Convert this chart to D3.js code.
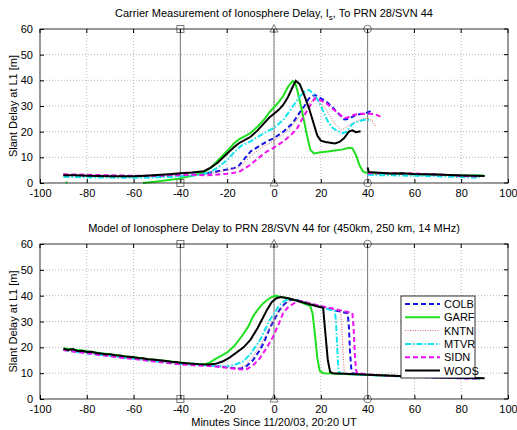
<!DOCTYPE html>
<html>
<head>
<meta charset="utf-8">
<script src="https://cdn.jsdelivr.net/npm/d3@7"></script>
<style>
  body { margin: 0; background: #fff; }
  text { font-family: "Liberation Sans", Arial, sans-serif; fill: #000; }
</style>
</head>
<body>
<svg id="chart" width="517" height="430"></svg>
<script>
// station names, same order in both panels
const stations = ["COLB", "GARF", "KNTN", "MTVR", "SIDN", "WOOS"];
const xTicks = [-100, -80, -60, -40, -20, 0, 20, 40, 60, 80, 100];
const yTicks = [0, 10, 20, 30, 40, 50, 60];
const markerTimes = [-40, 0, 40];
const markerShapes = ["square", "triangle", "circle"];

// measured delay [minutes, metres]; null = gap in the record
const colbMeas = [[-90,3.2],[-80,3.0],[-70,2.8],[-60,2.6],[-50,2.7],[-40,3.0],[-35,3.2],[-30,3.6],[-25,4.4],[-20,5.3],[-17,5.8],[-15,6.8],[-13,9],[-10,12.3],[-7,14],[-3,16.2],[0,17.5],[4,20],[8,23.3],[11,27.5],[13,30],[15,33],[17.4,34.3],[20,33],[22.4,31.7],[25,29.5],[27,27.5],[30,24.8],[32,25],[35,26.5],[38,27],[40,27.5],[42.5,28.5],null,[40,3.6],[45,3.8],[50,3.6],[60,3.4],[70,3.2],[80,2.9],[88,2.8]];
const garfMeas = [[-89,0.3],[-88.3,0.1],null,[-56,0],[-50,0.6],[-45,1.2],[-40,1.8],[-35,2.8],[-30,4.2],[-27,6],[-24,8.8],[-20,12.5],[-17,15.5],[-15,17],[-12,18.5],[-10,19.5],[-7,22],[-4,25],[-2,27.5],[0,29.5],[2,31.5],[4,34],[6,37.5],[8,39.8],[9,39],[10,36],[12,28],[14,19],[15.5,13],[17,11.5],[20,12],[23,12.3],[26,12.7],[29,13],[32,13.7],[33.5,13.5],[35,11],[36.5,7],[38,4.5],[40,3.8],[45,3.8],[50,3.6],[60,3.4],[70,3.2],[80,2.9],[88,3.0],[90,2.8]];
const kntnMeas = [[-90,3.0],[-80,2.8],[-70,2.6],[-60,2.5],[-50,2.6],[-40,2.9],[-30,3.3],[-25,4],[-20,5],[-15,6],[-12,8.5],[-10,10.5],[-5,14],[0,16.5],[4,19],[8,22.5],[11,26],[13,28.5],[15,31],[17.4,32.6],[20,31],[22.4,28.5],[24,26],[26,23],[28.8,20.7],[30.5,21.5],[32.3,22.7],[35,24],[38,25],[40,25.3],[42.3,23.9],[43.5,21.8],null,[40,3.4],[50,3.4],[60,3.2],[70,3.0],[80,2.7],[88,2.6]];
const mtvrMeas = [[-90,2.4],[-80,2.2],[-70,2.1],[-60,2.0],[-50,2.2],[-40,2.6],[-35,2.9],[-30,3.4],[-27,4.5],[-24,6],[-20,9],[-17,12],[-14,14.5],[-10,16.2],[-6,18.5],[-3,20],[0,21.5],[4,24.6],[8,29.8],[11,33.7],[13,35.5],[15,36.3],[17,34.5],[19,32],[21,28],[23,24],[25,21.5],[27,20.3],[29.5,19.4],[31,20],[33.5,23],[36,24],[39.5,24.8],[41,24.3],null,[40,3.2],[45,3.0],[50,3.0],[60,2.8],[70,2.6],[80,2.3],[85,2.1],[88,2.2]];
const sidnMeas = [[-90,3.4],[-80,3.2],[-70,3.0],[-60,2.8],[-50,2.9],[-40,3.2],[-35,3.2],[-30,3.0],[-25,3.2],[-20,3.6],[-15,4.3],[-10,7.1],[-7,9.5],[-3,12.3],[0,13.8],[4,16.2],[8,19.4],[10,21.5],[12.4,25.5],[15,29.5],[17.4,33],[20,32.2],[22.4,31],[25,29],[27,27.5],[30,25.3],[31.5,25.5],[34,26.5],[37,27],[40,27],[43,26.9],[46,25.6],null,[40,3.8],[45,3.9],[50,3.8],[60,3.7],[70,3.3],[80,2.8],[85,2.6],[88,2.5]];
const woosMeas = [[-90,3.0],[-85,3.0],[-80,2.8],[-75,2.7],[-70,2.6],[-65,2.6],[-60,2.6],[-55,2.8],[-50,3.1],[-45,3.4],[-40,3.8],[-35,4.1],[-30,4.6],[-27,6],[-24,8],[-20,11.5],[-17,14],[-15,15.5],[-12,17],[-10,18],[-7,20.5],[-4,23.5],[-2,25.5],[0,27],[2,28.5],[4,30.5],[6,33.5],[8,37.5],[9.3,39.8],[11,38.5],[13,34],[15,29],[17,23],[18.5,18.5],[20,16.5],[22,16],[24,15.7],[26,15.4],[28,16],[30,17.5],[32,20],[33.5,20.5],[35,19.8],[37,20.2],null,[40,6],[40.5,4.3],[45,4],[50,3.7],[55,3.8],[60,3.5],[65,3.4],[70,3.3],[75,3.1],[80,2.9],[85,2.8],[90,2.7]];

// modelled delay [minutes, metres]
const colbModel = [[-90,19.2],[-85,18.4],[-80,17.9],[-75,17.2],[-70,16.8],[-65,16.2],[-60,15.8],[-55,15.2],[-50,14.7],[-45,14.1],[-40,13.7],[-35,13.4],[-30,13.2],[-25,12.8],[-20,12.3],[-17,11.9],[-14,11.8],[-12,12.5],[-9,15],[-6,19],[-4,22.5],[-1.8,27.4],[0,30.5],[2.4,34.5],[4.5,36.8],[6.7,38.3],[9,38.5],[12,37.7],[16,36.7],[20,35.7],[25,34.5],[30,33.5],[31.5,33.2],[32,28],[32.5,18],[33,12],[33.5,10],[36,9.7],[40,9.4],[50,9.0],[60,8.6],[70,8.3],[80,8.1],[88,7.9]];
const garfModel = [[-90,19.6],[-86,19.2],[-82,18.8],[-78,18.3],[-74,17.7],[-70,17.3],[-66,16.8],[-62,16.4],[-58,16.0],[-54,15.5],[-50,15.1],[-46,14.7],[-42,14.3],[-38,13.9],[-34,13.6],[-30,13.5],[-28,13.8],[-25,15.5],[-22,17],[-20,18],[-17,20.5],[-14,24],[-11,28],[-9,31.9],[-7,34.5],[-4.7,37],[-2,39],[0.5,40],[3,39.5],[6,39],[10,38],[13.8,36.6],[15.5,36],[16.5,33],[17.5,25],[18.5,16],[19.5,11],[21,10],[25,9.9],[30,9.7],[40,9.4],[50,9.0],[60,8.7],[70,8.4],[80,8.2],[88,8.0]];
const kntnModel = [[-90,19.1],[-85,18.3],[-80,17.8],[-75,17.1],[-70,16.7],[-65,16.1],[-60,15.7],[-55,15.1],[-50,14.6],[-45,14.0],[-40,13.6],[-35,13.3],[-30,13.1],[-25,12.7],[-20,12.2],[-17,11.9],[-15,11.9],[-12,13.2],[-9,16.5],[-6,20.5],[-3,25.5],[-1,29],[1,32.5],[3,35],[5.5,37.3],[8,38.3],[11,38],[15,37],[20,35.8],[25,34.7],[28.5,33.8],[29,28],[29.5,18],[30,11],[30.5,10],[35,9.7],[40,9.4],[50,9.0],[60,8.6],[70,8.3],[80,8.1],[88,7.9]];
const mtvrModel = [[-90,19.0],[-85,18.3],[-80,17.7],[-75,17.1],[-70,16.6],[-65,16.0],[-60,15.6],[-55,15.0],[-50,14.5],[-45,14.0],[-40,13.6],[-35,13.3],[-30,13.1],[-25,12.8],[-22,12.6],[-20,12.6],[-17,13.2],[-13.2,14.5],[-10,17.5],[-6,22.8],[-4,26.5],[-1.8,30.6],[0,33],[2.4,36.4],[4.5,38],[6.7,38.8],[10,38],[14,37],[18,36],[22,35],[26,34],[26.5,30],[27,20],[27.5,12],[28,10],[30,9.7],[40,9.3],[50,8.9],[60,8.6],[70,8.3],[80,8.0],[88,7.9]];
const sidnModel = [[-90,19.0],[-86,18.4],[-82,18.0],[-78,17.5],[-74,17.0],[-70,16.6],[-66,16.1],[-62,15.7],[-58,15.3],[-54,14.8],[-50,14.4],[-46,14.0],[-42,13.6],[-38,13.3],[-34,13.1],[-30,12.9],[-25,12.6],[-20,12.1],[-15,11.5],[-12,11.3],[-9,13],[-6.1,15.7],[-3,20],[-0.4,24.1],[2,29],[3.9,33.2],[6,35.5],[9.6,37.7],[12,37.8],[16,36.9],[20,36],[25,35],[30,34],[33.5,33.3],[34,28],[34.5,18],[35,11.5],[35.5,10],[40,9.5],[50,9.0],[60,8.6],[70,8.3],[80,8.0],[88,7.9]];
const woosModel = [[-90,19.5],[-88,19],[-86,19.3],[-84,18.6],[-82,18.7],[-80,18.2],[-78,18.3],[-76,17.8],[-74,17.6],[-72,17.3],[-70,17.3],[-68,16.9],[-66,16.8],[-64,16.5],[-62,16.4],[-60,16.2],[-58,15.9],[-56,15.8],[-54,15.4],[-52,15.3],[-50,15.1],[-48,14.9],[-46,14.7],[-44,14.4],[-42,14.3],[-40,14.0],[-36,13.7],[-32,13.5],[-28,13.4],[-25,13.6],[-22,14.5],[-19,16],[-16,18],[-13,20],[-10,23],[-7,27.5],[-5,31],[-3,34.5],[-1,37.5],[1,39],[3,39.5],[6,39],[10,38],[14,37],[18,36],[21,35.3],[22,25],[23,15],[24,10.5],[25,10],[30,9.8],[40,9.4],[50,9.0],[60,8.7],[70,8.4],[80,8.2],[90,8.0]];

const measured = [colbMeas, garfMeas, kntnMeas, mtvrMeas, sidnMeas, woosMeas];
const modelled = [colbModel, garfModel, kntnModel, mtvrModel, sidnModel, woosModel];

// line styles, matlab-ish
const styles = {
  COLB: { color: "#1414e6", dash: "5,3", width: 2 },
  GARF: { color: "#1ee01e", dash: null, width: 2 },
  KNTN: { color: "#c86464", dash: "1,1.5", width: 1 },
  MTVR: { color: "#10e6f0", dash: "6,2,1.5,2", width: 2 },
  SIDN: { color: "#f010f0", dash: "5,3", width: 2 },
  WOOS: { color: "#000000", dash: null, width: 2 }
};

const svg = d3.select("#chart");
const left = 40, right = 508;
const x = d3.scaleLinear().domain([-100, 100]).range([left, right]);

function drawPanel(top, bottom, data, title) {
  const y = d3.scaleLinear().domain([0, 60]).range([bottom, top]);
  const g = svg.append("g");

  // dotted grid
  g.selectAll(".gx").data(xTicks.slice(1, -1)).join("line")
    .attr("x1", d => x(d)).attr("x2", d => x(d))
    .attr("y1", top).attr("y2", bottom)
    .attr("stroke", "#b4b4b4").attr("stroke-dasharray", "1,2");
  g.selectAll(".gy").data(yTicks.slice(1, -1)).join("line")
    .attr("x1", left).attr("x2", right)
    .attr("y1", d => y(d)).attr("y2", d => y(d))
    .attr("stroke", "#b4b4b4").attr("stroke-dasharray", "1,2");

  // reference epochs
  markerTimes.forEach((t, i) => {
    g.append("line").attr("x1", x(t)).attr("x2", x(t))
      .attr("y1", top).attr("y2", bottom)
      .attr("stroke", "#7a7a7a").attr("stroke-width", 1);
    [top, bottom].forEach(py => {
      const px = x(t);
      if (markerShapes[i] == "square") {
        g.append("rect").attr("x", px - 3.5).attr("y", py - 3.5)
          .attr("width", 7).attr("height", 7);
      } else if (markerShapes[i] == "triangle") {
        g.append("path").attr("d", `M${px},${py - 4.5}L${px + 4},${py + 3}L${px - 4},${py + 3}Z`);
      } else {
        g.append("circle").attr("cx", px).attr("cy", py).attr("r", 3.8);
      }
    });
  });
  g.selectAll("rect, path, circle").attr("fill", "none").attr("stroke", "#7a7a7a");

  // series
  const line = d3.line().defined(d => d != null).x(d => x(d[0])).y(d => y(d[1]));
  stations.forEach((s, i) => {
    const st = styles[s];
    g.append("path").datum(data[i])
      .attr("d", line)
      .attr("fill", "none")
      .attr("stroke", st.color)
      .attr("stroke-width", st.width)
      .attr("stroke-dasharray", st.dash);
  });

  // axes box and ticks
  g.append("rect").attr("x", left).attr("y", top)
    .attr("width", right - left).attr("height", bottom - top)
    .attr("fill", "none").attr("stroke", "#000").attr("stroke-width", 0.8);

  const xAxis = d3.axisBottom(x).tickValues(xTicks).tickFormat(d => String(d)).tickSize(-4).tickPadding(6.5);
  g.append("g").attr("transform", `translate(0,${bottom})`).call(xAxis)
    .call(a => a.select(".domain").remove())
    .call(a => a.selectAll("text").attr("font-size", 11).attr("font-family", "Liberation Sans, Arial"));
  const yAxis = d3.axisLeft(y).tickValues(yTicks).tickFormat(d => String(d)).tickSize(-4).tickPadding(7);
  g.append("g").attr("transform", `translate(${left},0)`).call(yAxis)
    .call(a => a.select(".domain").remove())
    .call(a => a.selectAll("text").attr("font-size", 11).attr("font-family", "Liberation Sans, Arial"));
  // mirrored ticks on top and right
  g.selectAll(".tt").data(xTicks).join("line")
    .attr("x1", d => x(d)).attr("x2", d => x(d))
    .attr("y1", top).attr("y2", top + 4).attr("stroke", "#000");
  g.selectAll(".tr").data(yTicks).join("line")
    .attr("x1", right - 4).attr("x2", right)
    .attr("y1", d => y(d)).attr("y2", d => y(d)).attr("stroke", "#000");

  g.append("text")
    .attr("transform", `translate(17,${(top + bottom) / 2}) rotate(-90)`)
    .attr("text-anchor", "middle").attr("font-size", 11)
    .text("Slant Delay at L1 [m]");

  const tt = g.append("text").attr("x", (left + right) / 2).attr("y", top - 12)
    .attr("text-anchor", "middle").attr("font-size", 11);
  title(tt);
  return g;
}

drawPanel(29, 183, measured, t => {
  t.append("tspan").text("Carrier Measurement of Ionosphere Delay, I");
  t.append("tspan").attr("font-size", 8).attr("dy", 3).text("s");
  t.append("tspan").attr("dy", -3).text(", To PRN 28/SVN 44");
});

const bottomPanel = drawPanel(244, 399, modelled, t => {
  t.text("Model of Ionosphere Delay to PRN 28/SVN 44 for (450km, 250 km, 14 MHz)");
});

svg.append("text").attr("x", (left + right) / 2).attr("y", 426)
  .attr("text-anchor", "middle").attr("font-size", 11)
  .text("Minutes Since 11/20/03, 20:20 UT");

// legend
const lg = bottomPanel.append("g").attr("transform", "translate(401,296)");
lg.append("rect").attr("width", 74).attr("height", 82)
  .attr("fill", "#fff").attr("stroke", "#000").attr("stroke-width", 0.8);
stations.forEach((s, i) => {
  const st = styles[s];
  const yy = 8 + i * 13.3;
  lg.append("line").attr("x1", 4).attr("x2", 39).attr("y1", yy).attr("y2", yy)
    .attr("stroke", st.color).attr("stroke-width", st.width)
    .attr("stroke-dasharray", st.dash);
  lg.append("text").attr("x", 43).attr("y", yy + 4).attr("font-size", 11).text(s);
});
</script>
</body>
</html>
